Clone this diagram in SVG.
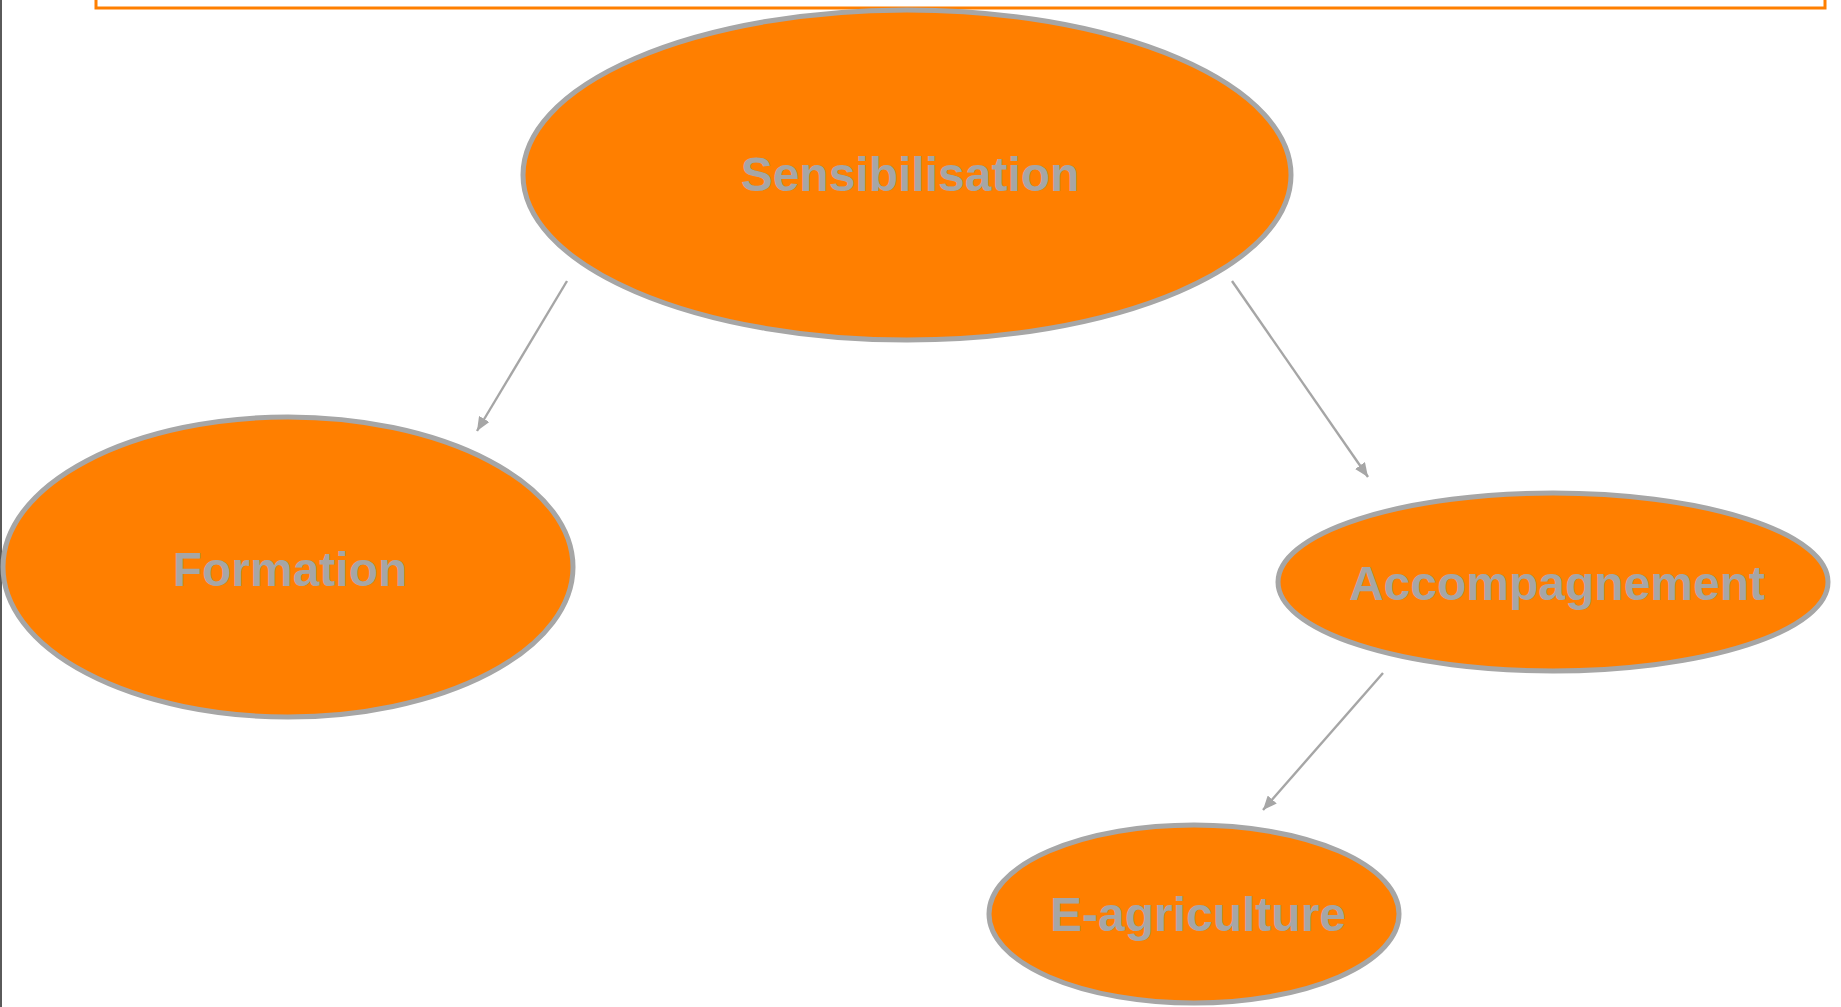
<svg xmlns="http://www.w3.org/2000/svg" width="1841" height="1007" viewBox="0 0 1841 1007">
<style>
.node{fill:#FF7F00;stroke:#A6A6A6;stroke-width:5}
.lbl{font-family:"Liberation Sans",Arial,sans-serif;font-weight:bold;font-size:48px;fill:#A6A6A6;text-anchor:middle}
.conn{stroke:#A6A6A6;stroke-width:2.4;fill:none;marker-end:url(#ah)}
</style>
<defs>
<marker id="ah" markerUnits="userSpaceOnUse" markerWidth="14" markerHeight="12" viewBox="0 0 14 12" refX="14" refY="6" orient="auto">
<path d="M0,0 L14,6 L0,12 Z" fill="#A6A6A6"/>
</marker>
</defs>
<rect x="0" y="0" width="1841" height="1007" fill="#FFFFFF"/>
<line x1="1" y1="0" x2="1" y2="1007" stroke="#5A5A5A" stroke-width="2"/>
<rect x="96" y="-20" width="1729" height="28" fill="none" stroke="#FF7F00" stroke-width="3"/>
<g id="connectors">
<line class="conn" x1="567" y1="281" x2="477" y2="431"/>
<line class="conn" x1="1232" y1="281" x2="1368" y2="477"/>
<line class="conn" x1="1383" y1="673" x2="1263" y2="810"/>
</g>
<g id="sensibilisation">
<ellipse class="node" cx="907" cy="175" rx="384" ry="165"/>
<text class="lbl" x="910" y="191">Sensibilisation</text>
</g>
<g id="formation">
<ellipse class="node" cx="288" cy="567" rx="285" ry="150"/>
<text class="lbl" x="290" y="586">Formation</text>
</g>
<g id="accompagnement">
<ellipse class="node" cx="1553" cy="582" rx="275" ry="89"/>
<text class="lbl" x="1557" y="600">Accompagnement</text>
</g>
<g id="e-agriculture">
<ellipse class="node" cx="1194" cy="914" rx="205" ry="89"/>
<text class="lbl" x="1198" y="931">E-agriculture</text>
</g>
</svg>
